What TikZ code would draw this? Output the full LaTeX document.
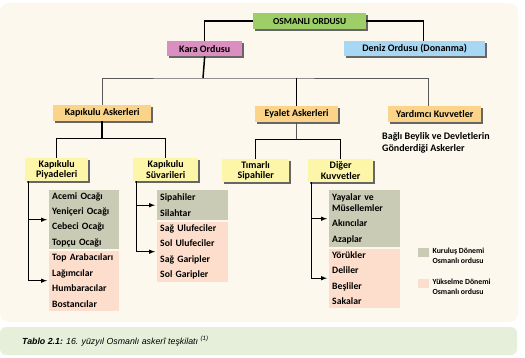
\documentclass[tikz,border=0pt]{standalone}
\usepackage{fontspec}
\setsansfont{Carlito}
\newfontfamily\capfont{Liberation Sans}
\usetikzlibrary{shadows,positioning,arrows}
\definecolor{hinter}{RGB}{252,248,237}
\definecolor{titel}{RGB}{229,239,218}
\definecolor{gruen}{RGB}{158,206,104}
\definecolor{rosa}{RGB}{219,143,193}
\definecolor{blau}{RGB}{167,215,242}
\definecolor{orange}{RGB}{251,212,137}
\definecolor{gelb}{RGB}{253,246,168}
\definecolor{grau}{RGB}{201,203,181}
\definecolor{lachs}{RGB}{253,221,203}
\begin{document}
\begin{tikzpicture}[x=1pt, y=-1pt,
		>=latex,   %Pfeilspitzen
		font=\sffamily\bfseries\fontsize{10}{10.5}\selectfont,
		kasten/.style={anchor=north west, inner sep=0pt, align=center, fill=#1,
			drop shadow={shadow xshift=2pt, shadow yshift=-2pt, fill=black!60, opacity=1}},
		liste/.style={anchor=north west, inner xsep=3pt, inner ysep=0pt, align=left, fill=#1,
			font=\sffamily\bfseries\fontsize{9.7}{15.4}\selectfont},
		klein/.style={inner sep=0pt, align=left, font=\sffamily\bfseries\fontsize{7.8}{10}\selectfont},
		dick/.style={line width=1.5pt},
		mittel/.style={line width=1pt},
		duenn/.style={line width=0.8pt, black!65},
		pfeil/.style={->, line width=1pt, shorten >=2pt}]
		%Hintergrund
		\useasboundingbox (0,0) rectangle (525,358);
		\fill[hinter, rounded corners=9pt] (0,3) rectangle (518,322);
		\fill[titel, rounded corners=6pt] (0,327) rectangle (517,355);
		% Kaesten oben
		\node[kasten=gruen, minimum width=113, minimum height=16, font=\sffamily\bfseries\fontsize{9.3}{10}\selectfont] (osm) at (253,13) {OSMANLI ORDUSU};
		\node[kasten=rosa, minimum width=75, minimum height=15] (kara) at (167,41) {Kara Ordusu};
		\node[kasten=blau, minimum width=141, minimum height=15] (deniz) at (344,41) {Deniz Ordusu (Donanma)};
		\node[kasten=orange, minimum width=98, minimum height=16] (kapi) at (53,105) {Kapıkulu Askerleri};
		\node[kasten=orange, minimum width=83, minimum height=16] (eyalet) at (255,106) {Eyalet Askerleri};
		\node[kasten=orange, minimum width=93, minimum height=16] (yard) at (388,106) {Yardımcı Kuvvetler};
		\node[anchor=north west, inner sep=0pt, align=left, font=\sffamily\bfseries\fontsize{10}{12}\selectfont] (bagli) at (382,132) {Bağlı Beylik ve Devletlerin\\Gönderdiği Askerler};
		\node[kasten=gelb, minimum width=63, minimum height=23] (piy) at (25,158) {Kapıkulu\\Piyadeleri};
		\node[kasten=gelb, minimum width=65, minimum height=23] (suv) at (133,158) {Kapıkulu\\Süvarileri};
		\node[kasten=gelb, minimum width=67, minimum height=23] (timar) at (222,159) {Tımarlı\\Sipahiler};
		\node[kasten=gelb, minimum width=65, minimum height=23] (dig) at (308,159) {Diğer\\Kuvvetler};
		% Listen
		\node[liste=grau, text width=64, minimum height=59] (piyA) at (49,190) {Acemi Ocağı\\Yeniçeri Ocağı\\Cebeci Ocağı\\Topçu Ocağı};
		\node[liste=lachs, text width=64, minimum height=60] (piyB) at (49,250.5) {Top Arabacıları\\Lağımcılar\\Humbaracılar\\Bostancılar};
		\node[liste=grau, text width=65, minimum height=30] (suvA) at (157,190) {Sipahiler\\Silahtar};
		\node[liste=lachs, text width=65, minimum height=60] (suvB) at (157,221.5) {Sağ Ulufeciler\\Sol Ulufeciler\\Sağ Garipler\\Sol Garipler};
		\node[liste=grau, text width=65, minimum height=57] (digA) at (329,190) {Yayalar ve\\[-4.4pt]Müsellemler\\Akıncılar\\Azaplar};
		\node[liste=lachs, text width=65, minimum height=59] (digB) at (329,248.5) {Yörükler\\Deliler\\Beşliler\\Sakalar};
		% Verbindungen
		\draw[dick] (osm.west) -| (kara.north);
		\draw[dick] (osm.east) -| ([xshift=9pt]deniz.north);
		\coordinate (kb) at (203,78);
		\draw[dick] (kara.south) -- (kb);
		\draw[duenn] (kapi.north) |- (kb) -| ([xshift=-6pt]yard.north);
		\draw[dick] (kb -| eyalet.north) -- (eyalet.north);
		\draw[dick] (kapi.south) -- ++(0,17) coordinate (ka);
		\draw[mittel] (piy.north) |- (ka) -| (suv.north);
		\draw[duenn] (eyalet.south) -- ++(0,17) coordinate (ea);
		\draw[mittel] (timar.north) |- (ea) -| (dig.north);
		% Pfeile
		\foreach \q/\z in {piy/piyA, piy/piyB, suv/suvA, suv/suvB, dig/digA, dig/digB}
			\draw[pfeil] ([xshift=3pt]\q.south west) |- (\z.west);
		% Legende
		\node[fill=grau, minimum width=11, minimum height=9, inner sep=0pt, anchor=north west] (lgA) at (418,248) {};
		\node[klein, right=3pt of lgA.north east, anchor=north west] (lgAt) {Kuruluş Dönemi\\Osmanlı ordusu};
		\node[fill=lachs, minimum width=11, minimum height=9, inner sep=0pt, anchor=north west] (lgB) at (418,279) {};
		\node[klein, right=3pt of lgB.north east, anchor=north west] (lgBt) {Yükselme Dönemi\\Osmanlı ordusu};
		%Beschriftung
		\node[anchor=west, inner sep=0pt, font=\capfont\itshape\fontsize{8.8}{10}\selectfont] (tab) at (22,341) {\textbf{Tablo 2.1:} 16. yüzyıl Osmanlı askerî teşkilatı \textsuperscript{(1)}};
\end{tikzpicture}
\end{document}
